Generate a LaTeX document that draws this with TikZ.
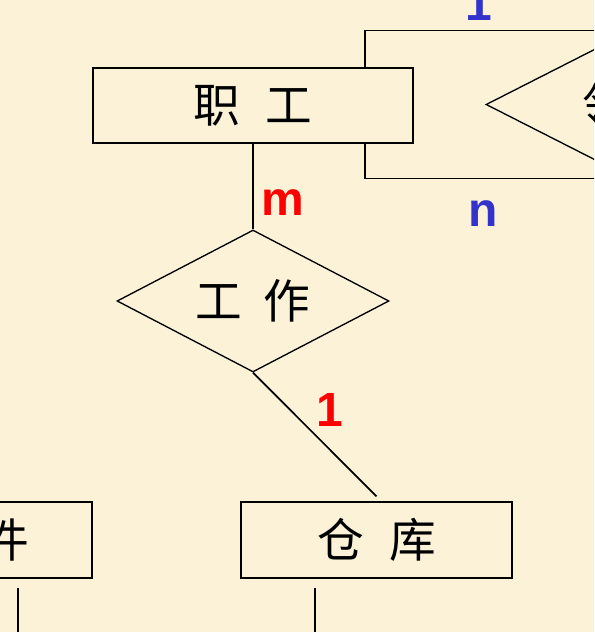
\documentclass[tikz,border=0pt]{standalone}
\usepackage{fontspec}
\setmainfont{Liberation Sans}
\newfontfamily\cjk{Noto Sans CJK SC}
\usetikzlibrary{shapes.geometric,calc}
\definecolor{paper}{RGB}{251,242,216}
\definecolor{cardred}{RGB}{255,0,0}
\definecolor{cardblue}{RGB}{51,51,204}
\tikzstyle{entity} = [draw, line width=1.5pt, inner sep=0pt, minimum height=56.5pt, font=\cjk\fontsize{35}{35}\selectfont]
\tikzstyle{relation} = [diamond, draw, line width=1pt, inner sep=0pt, shape aspect=1.9, minimum width=204pt, minimum height=106.5pt, font=\cjk\fontsize{35}{35}\selectfont]
\tikzstyle{card} = [inner sep=0pt, anchor=base, font=\bfseries\fontsize{36}{36}\selectfont]
\tikzstyle{conn} = [line width=1.3pt]

\begin{document}
\begin{tikzpicture}[x=0.75pt,y=-0.75pt]
    \fill[paper] (0,0) rectangle (594,632);
    \useasboundingbox (0,0) rectangle (594,632);
    \clip (0,0) rectangle (594,632);

    % entities and relations
    \node[entity, minimum width=240pt] (zg) at (253,105.5) {职\hspace{0.55em}工};
    \node[relation] (gz) at (253,301) {工\hspace{0.45em}作};
    \node[entity, minimum width=203pt] (ck) at (376.5,540) {仓\hspace{0.55em}库};
    \node[entity, minimum width=183pt] (lj) at (-30,540) {零\hspace{0.55em}件};
    \node[relation, minimum width=216pt, minimum height=110pt] (ld) at (630,104.5) {\hspace{14pt}领\hspace{0.45em}导};

    \coordinate (zgtop) at ($(zg.north east)+(-49,0)$);
    \coordinate (zgbot) at ($(zg.south east)+(-49,0)$);
    \coordinate (ckleg) at (315,640);
    \coordinate (ljleg) at (18,640);

    % connectors
    \draw[conn] (zg) -- (gz);
    \draw[conn] (gz.south) -- ([yshift=3.75pt]ck.north);
    \draw[conn] (zgtop) |- (ld.north);
    \draw[conn] (zgbot) |- (ld.south);
    \draw[conn] ([yshift=-6.75pt]ck.south -| ckleg) -- (ckleg);
    \draw[conn] ([yshift=-6.75pt]lj.south -| ljleg) -- (ljleg);

    % cardinalities
    \node[card, text=cardred] (m) at (283,215) {m};
    \node[card, text=cardblue] (n) at (483,226) {n};
    \node[card, text=cardred] (one) at (330,426) {1};
    \node[card, text=cardblue] (onetop) at (479,20) {1};
\end{tikzpicture}
\end{document}
